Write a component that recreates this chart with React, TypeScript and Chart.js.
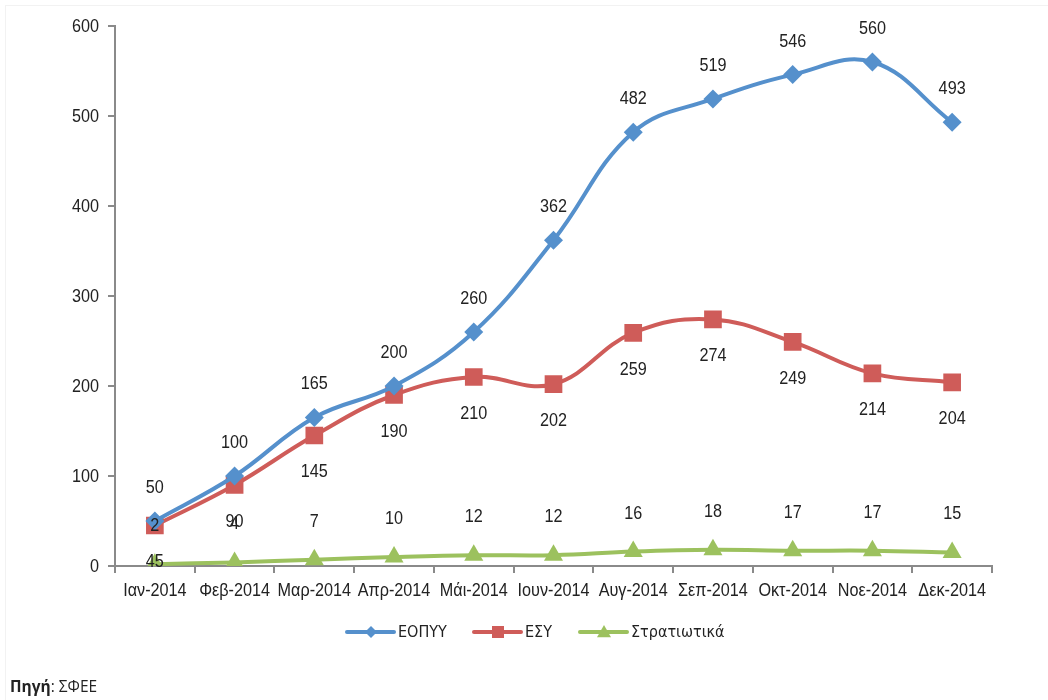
import React, { useEffect, useRef } from "react";
import { Chart, registerables } from "chart.js";

Chart.register(...registerables);

const categories = ["Ιαν-2014", "Φεβ-2014", "Μαρ-2014", "Απρ-2014", "Μάι-2014", "Ιουν-2014", "Αυγ-2014", "Σεπ-2014", "Οκτ-2014", "Νοε-2014", "Δεκ-2014"];
const eopyy = [50, 100, 165, 200, 260, 362, 482, 519, 546, 560, 493];
const esy = [45, 90, 145, 190, 210, 202, 259, 274, 249, 214, 204];
const stratiotika = [2, 4, 7, 10, 12, 12, 16, 18, 17, 17, 15];
const seriesNames = ["ΕΟΠΥΥ", "ΕΣΥ", "Στρατιωτικά"];
const yTicks = [0, 100, 200, 300, 400, 500, 600];

const TXT_FONT = "18px 'Liberation Sans', Arial, sans-serif";
const SX = 0.9;
const LEG_FONT = "16px 'DejaVu Sans Condensed', 'DejaVu Sans', sans-serif";
const BLUE = "#5590CC";
const RED = "#CF5C59";
const GREEN = "#9CC15E";
const labelOffsets = [-33, 37, -38];

function narrowText(ctx: CanvasRenderingContext2D, text: string, x: number, y: number, align: "left" | "center" | "right") {
  ctx.font = TXT_FONT;
  ctx.textAlign = "left";
  ctx.textBaseline = "middle";
  const w = ctx.measureText(text).width * SX;
  const left = align === "center" ? x - w / 2 : align === "right" ? x - w : x;
  ctx.save();
  ctx.translate(left, y);
  ctx.scale(SX, 1);
  ctx.fillText(text, 0, 0);
  ctx.restore();
}

function shape(ctx: CanvasRenderingContext2D, style: string, x: number, y: number, r: number) {
  ctx.beginPath();
  if (style === "rectRot") {
    ctx.moveTo(x, y - r); ctx.lineTo(x + r, y); ctx.lineTo(x, y + r); ctx.lineTo(x - r, y);
  } else if (style === "rect") {
    ctx.rect(x - r, y - r, 2 * r, 2 * r);
  } else {
    ctx.moveTo(x, y - r); ctx.lineTo(x + r, y + r * 0.75); ctx.lineTo(x - r, y + r * 0.75);
  }
  ctx.closePath();
  ctx.fill();
}

const labelsPlugin = {
  id: "customLabels",
  afterDraw(chart: any) {
    const ctx = chart.ctx;
    ctx.save();
    ctx.fillStyle = "#222";
    const xs = chart.scales.x;
    const ys = chart.scales.y;
    categories.forEach((c, i) => {
      narrowText(ctx, c, xs.getPixelForValue(i), chart.chartArea.bottom + 25, "center");
    });
    yTicks.forEach((v) => {
      narrowText(ctx, String(v), chart.chartArea.left - 16, ys.getPixelForValue(v) + 1, "right");
    });
    chart.data.datasets.forEach((ds: any, i: number) => {
      const meta = chart.getDatasetMeta(i);
      meta.data.forEach((pt: any, j: number) => {
        narrowText(ctx, String(ds.data[j]), pt.x, pt.y + labelOffsets[i], "center");
      });
    });
    const items = [
      { x: 347, style: "rectRot", color: BLUE, r: 6 },
      { x: 474, style: "rect", color: RED, r: 6 },
      { x: 580, style: "triangle", color: GREEN, r: 7 },
    ];
    const y = 632;
    items.forEach((it, i) => {
      ctx.strokeStyle = it.color;
      ctx.lineWidth = 4;
      ctx.lineCap = "round";
      ctx.beginPath();
      ctx.moveTo(it.x, y);
      ctx.lineTo(it.x + 47, y);
      ctx.stroke();
      ctx.fillStyle = it.color;
      shape(ctx, it.style, it.x + 24, y, it.r);
      ctx.fillStyle = "#222";
      ctx.textAlign = "left";
      ctx.textBaseline = "middle";
      ctx.font = LEG_FONT;
      ctx.fillText(seriesNames[i], it.x + 51, y + 1);
    });
    ctx.restore();
  },
};

export default function App() {
  const ref = useRef<HTMLCanvasElement>(null);
  useEffect(() => {
    if (!ref.current) return;
    const mk = (label: string, data: number[], color: string, style: string, r: number) => ({
      label,
      data,
      borderColor: color,
      backgroundColor: color,
      borderWidth: 4,
      tension: 0.4,
      pointStyle: style,
      pointRadius: r,
      pointBorderWidth: 0,
      pointBackgroundColor: color,
      pointHoverRadius: r,
    });
    const chart = new Chart(ref.current, {
      type: "line",
      data: {
        labels: categories,
        datasets: [
          mk(seriesNames[0], eopyy, BLUE, "rectRot", 9.5),
          mk(seriesNames[1], esy, RED, "rect", 12.5),
          mk(seriesNames[2], stratiotika, GREEN, "triangle", 11),
        ],
      },
      plugins: [labelsPlugin],
      options: {
        animation: false,
        responsive: false,
        events: [],
        layout: { padding: { top: 26, right: 56, left: 0, bottom: 0 } },
        plugins: { legend: { display: false }, tooltip: { enabled: false } },
        scales: {
          x: {
            offset: true,
            grid: { display: true, drawOnChartArea: false, offset: true, color: "#8a8a8a", tickLength: 7, lineWidth: 2 },
            border: { color: "#8a8a8a", width: 2 },
            ticks: { display: false, autoSkip: false },
            afterFit: (s: any) => { s.height = 134; },
          },
          y: {
            min: 0,
            max: 600,
            afterBuildTicks: (s: any) => { s.ticks = yTicks.map((v) => ({ value: v })); },
            grid: { display: true, drawOnChartArea: false, color: "#8a8a8a", tickLength: 7, lineWidth: 2 },
            border: { color: "#8a8a8a", width: 2 },
            ticks: { display: false },
            afterFit: (s: any) => { s.width = 115; },
          },
        },
      },
    });
    return () => chart.destroy();
  }, []);
  return (
    <div style={{ position: "fixed", left: 0, top: 0, width: 1048, height: 700, background: "#fff", overflow: "hidden" }}>
      <div style={{ position: "absolute", left: 5, top: 5, width: 1100, height: 800, borderTop: "1px solid #f2f2f2", borderLeft: "1px solid #f2f2f2" }} />
      <canvas ref={ref} width={1048} height={700} style={{ position: "absolute", left: 0, top: 0 }} />
      <div style={{ position: "absolute", left: 10, top: 675, fontFamily: "'Open Sans', 'Noto Sans', sans-serif", fontSize: 15.5, color: "#222" }}>
        <b>Πηγή</b>: ΣΦΕΕ
      </div>
    </div>
  );
}
